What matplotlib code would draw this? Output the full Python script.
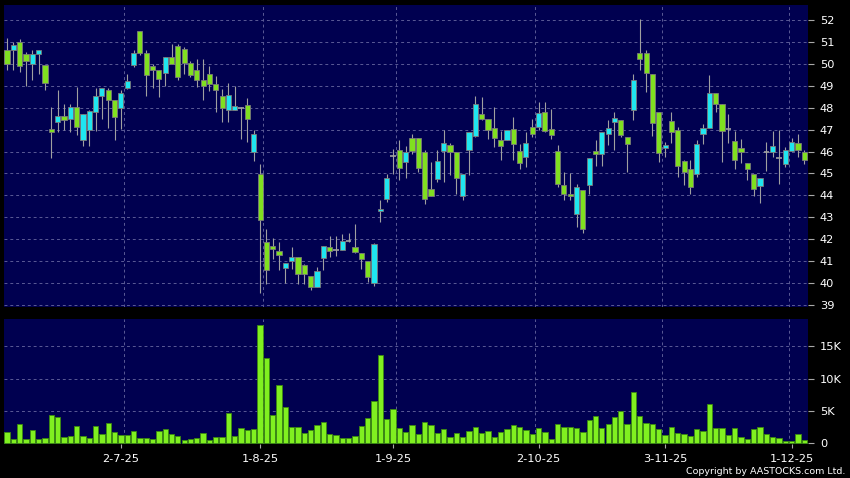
import matplotlib
matplotlib.use("Agg")
import matplotlib.pyplot as plt
import numpy as np

# ---------------- data ----------------
opens = [50.65, 50.65, 51.01, 50.46, 50.01, 50.46, 49.96, 47.04, 47.36, 47.63,
         47.49, 48.03, 46.54, 46.99, 47.80, 48.53, 48.82, 48.36, 48.00, 48.90,
         49.95, 51.50, 50.51, 49.90, 49.73, 49.60, 50.31, 50.81, 50.69, 50.05,
         49.73, 49.28, 49.55, 49.09, 48.51, 47.88, 47.91, 48.00, 48.13, 45.97,
         44.98, 41.86, 41.68, 41.45, 40.69, 41.03, 41.19, 40.83, 40.33, 39.84,
         41.15, 41.63, 41.51, 41.51, 41.94, 41.63, 41.36, 41.00, 39.99, 43.28,
         43.84, 45.79, 46.08, 45.52, 46.63, 46.63, 45.97, 44.30, 44.75, 46.02,
         46.31, 45.97, 43.99, 46.05, 46.69, 47.72, 47.49, 47.07, 46.54, 46.51,
         47.04, 46.02, 45.77, 47.11, 47.11, 47.80, 47.04, 46.02, 44.45, 44.07,
         43.16, 44.25, 44.45, 46.02, 45.90, 46.78, 47.34, 47.45, 46.66, 47.91,
         50.49, 50.49, 49.55, 47.80, 46.17, 47.39, 46.99, 45.56, 45.21, 44.98,
         46.81, 47.08, 48.67, 48.18, 47.02, 46.47, 46.17, 45.47, 44.98, 44.42,
         46.00, 45.97, 45.71, 45.44, 46.02, 46.38, 45.97]
highs = [51.19, 50.99, 51.13, 50.54, 50.65, 50.65, 49.96, 48.03, 48.79, 48.15,
         48.15, 48.94, 47.72, 47.90, 48.91, 48.91, 48.91, 48.36, 48.82, 49.52,
         50.61, 51.50, 50.61, 50.01, 49.73, 50.31, 50.92, 50.92, 50.75, 50.13,
         50.22, 50.22, 49.88, 49.43, 48.86, 49.14, 49.00, 48.03, 48.45, 46.99,
         45.44, 42.47, 42.06, 41.86, 40.92, 41.65, 41.19, 40.87, 40.33, 40.72,
         41.68, 42.17, 42.17, 42.24, 42.29, 42.70, 41.36, 41.03, 41.82, 43.80,
         44.98, 46.12, 46.51, 46.23, 46.81, 46.63, 46.05, 45.52, 46.05, 46.99,
         46.38, 45.97, 44.98, 46.89, 48.51, 48.48, 47.49, 48.03, 46.93, 46.99,
         47.57, 46.32, 46.89, 47.49, 48.26, 48.26, 47.95, 46.28, 45.06, 45.01,
         44.53, 44.25, 45.71, 46.54, 46.89, 47.42, 47.80, 47.45, 46.66, 49.52,
         52.02, 50.61, 49.55, 47.80, 46.43, 47.80, 47.11, 45.62, 45.62, 46.54,
         47.24, 49.47, 48.67, 48.18, 47.69, 46.93, 46.58, 45.47, 44.98, 44.80,
         46.43, 46.93, 46.96, 46.20, 46.63, 46.81, 46.08]
lows = [49.73, 49.73, 49.63, 48.97, 49.25, 49.55, 48.82, 45.71, 46.89, 46.96,
        46.89, 46.73, 46.23, 46.23, 46.93, 47.49, 47.08, 46.51, 47.04, 48.86,
        49.85, 50.39, 48.51, 48.90, 48.48, 48.97, 50.00, 49.25, 49.55, 49.40,
        48.94, 48.33, 48.76, 47.80, 47.34, 47.34, 47.88, 46.58, 46.43, 45.56,
        39.53, 39.96, 41.10, 40.60, 39.99, 40.65, 39.96, 39.96, 39.69, 39.84,
        40.60, 41.21, 41.23, 41.51, 41.86, 41.36, 40.65, 40.04, 39.88, 42.78,
        43.69, 44.98, 44.68, 44.80, 45.87, 45.06, 43.61, 43.99, 44.60, 44.60,
        44.91, 44.07, 43.77, 44.91, 46.66, 47.42, 46.58, 46.20, 45.59, 46.51,
        45.62, 45.21, 45.29, 46.66, 46.96, 46.89, 46.58, 44.37, 43.77, 43.77,
        42.58, 42.27, 44.07, 45.32, 45.32, 46.28, 46.05, 46.66, 45.06, 47.42,
        49.70, 48.71, 46.69, 45.52, 45.74, 46.38, 44.83, 44.45, 44.07, 44.83,
        46.32, 47.08, 47.80, 45.52, 46.38, 45.21, 45.47, 44.68, 43.99, 43.64,
        45.11, 45.74, 44.53, 45.29, 46.02, 45.74, 45.44]
closes = [50.01, 50.87, 49.91, 50.13, 50.46, 50.65, 49.12, 46.89, 47.63, 47.45,
          48.03, 47.11, 47.72, 47.83, 48.54, 48.91, 48.36, 47.57, 48.68, 49.20,
          50.51, 50.51, 49.49, 49.73, 49.31, 50.31, 50.01, 49.40, 50.05, 49.49,
          49.28, 48.99, 49.09, 48.82, 48.00, 48.59, 48.06, 48.00, 47.49, 46.81,
          42.88, 40.60, 41.56, 41.28, 40.92, 41.19, 40.42, 40.42, 39.84, 40.54,
          41.68, 41.48, 41.51, 41.94, 41.94, 41.41, 41.10, 40.30, 41.79, 43.39,
          44.80, 45.79, 45.26, 45.97, 46.02, 45.26, 43.84, 43.99, 45.56, 46.38,
          45.97, 44.80, 44.98, 46.89, 48.18, 47.49, 46.99, 46.63, 46.26, 46.96,
          46.32, 45.47, 46.38, 46.81, 47.75, 46.92, 46.73, 44.50, 44.07, 43.99,
          44.37, 42.47, 45.71, 45.90, 46.89, 47.08, 47.54, 46.73, 46.32, 49.28,
          50.23, 49.58, 47.30, 45.93, 46.28, 46.89, 45.32, 45.06, 44.37, 46.32,
          47.08, 48.67, 48.18, 46.93, 47.02, 45.59, 45.97, 45.21, 44.30, 44.80,
          46.00, 46.23, 45.71, 46.08, 46.43, 46.08, 45.62]
volumes = [1761, 622, 2953, 570, 1968, 622, 829, 4403, 4040, 932,
           1140, 2694, 1140, 777, 2642, 1399, 3160, 1658, 1191, 1295,
           1813, 725, 725, 570, 1917, 2176, 1347, 1036, 414, 570,
           777, 1606, 518, 984, 984, 4714, 1036, 2383, 1968, 2227,
           18389, 13209, 4403, 9065, 5594, 2538, 2538, 1606, 2072, 2797,
           3263, 1450, 1191, 829, 725, 1088, 2590, 3885, 6475, 13727,
           3678, 5284, 2383, 1761, 2745, 1347, 3263, 2745, 1554, 2176,
           881, 1606, 881, 1917, 2486, 1606, 1917, 881, 1761, 2227,
           2797, 2435, 2072, 1450, 2331, 1658, 622, 2901, 2486, 2486,
           2279, 1761, 3626, 4248, 2383, 2953, 3989, 4921, 3004, 7874,
           4248, 3160, 2953, 2124, 1191, 2486, 1606, 1347, 1088, 2176,
           1917, 6009, 2383, 2383, 1243, 2279, 984, 673, 2227, 2486,
           1450, 984, 829, 259, 259, 1347, 518]

# date labels: candle index of the labelled day, and candle index that starts each month
label_idx = [18, 40, 61, 84, 104, 124]
month_start_idx = [19, 41, 62, 84, 104, 124]
month_labels = ["2-7-25", "1-8-25", "1-9-25", "2-10-25", "3-11-25", "1-12-25"]
price_ticks = list(range(39, 53))
vol_ticks = [0, 5000, 10000, 15000]
vol_labels = ["0", "5K", "10K", "15K"]

# ---------------- style ----------------
BG = "#000050"
GRID = "#5a5a96"
UP = "#1fe6f0"
DOWN = "#80e020"
WICK = "#a0a0a0"
EDGE = "#7a7a7a"
VOL = "#80f020"
VOL_EDGE = "#3c8a10"
FS = 8.2

o = np.array(opens); h = np.array(highs); l = np.array(lows); c = np.array(closes)
v = np.array(volumes)
x = np.arange(len(o))

W, H = 850, 478
fig = plt.figure(figsize=(W / 100, H / 100), dpi=100, facecolor="black")
ax1 = fig.add_axes([4 / W, 1 - 307 / H, (807.5 - 4) / W, (307 - 5) / H])
ax2 = fig.add_axes([4 / W, 1 - 444 / H, (807.5 - 4) / W, (444 - 319) / H])

for ax in (ax1, ax2):
    ax.set_facecolor(BG)
    for s in ax.spines.values():
        s.set_visible(False)
    ax.set_xlim(-0.47, 126.5)
    ax.yaxis.tick_right()
    ax.tick_params(axis="y", colors="#a8a8a8", labelcolor="white", length=4,
                   width=0.8, pad=5, labelsize=FS)
    for m in month_start_idx:
        ax.axvline(m - 0.5, color=GRID, lw=0.7, ls=(0, (3, 3)), zorder=0)

# price panel
ax1.set_ylim(38.91, 52.68)
ax1.set_yticks(price_ticks)
ax1.set_yticklabels([str(t) for t in price_ticks])
for t in price_ticks:
    ax1.axhline(t, color=GRID, lw=0.7, ls=(0, (3, 3)), zorder=0)
ax1.set_xticks([])

ax1.vlines(x, l, h, color=WICK, lw=0.8, zorder=2)
up = c > o
down = c < o
doji = c == o
ax1.bar(x[up], (c - o)[up], bottom=o[up], width=0.82, color=UP,
        edgecolor=EDGE, linewidth=0.6, zorder=3)
ax1.bar(x[down], (o - c)[down], bottom=c[down], width=0.82, color=DOWN,
        edgecolor=EDGE, linewidth=0.6, zorder=3)
ax1.hlines(o[doji], x[doji] - 0.42, x[doji] + 0.42, color=WICK, lw=1.2, zorder=3)

# volume panel
ax2.set_ylim(-155, 19255)
ax2.set_yticks(vol_ticks)
ax2.set_yticklabels(vol_labels)
for t in vol_ticks[1:]:
    ax2.axhline(t, color=GRID, lw=0.7, ls=(0, (3, 3)), zorder=0)
ax2.bar(x, v, width=0.84, color=VOL, edgecolor=VOL_EDGE, linewidth=0.6, zorder=3)
ax2.set_xticks(label_idx)
ax2.set_xticklabels(month_labels)
ax2.tick_params(axis="x", colors="#a8a8a8", labelcolor="white", length=3,
                width=0.8, pad=4, labelsize=FS)

fig.text(845 / W, 1 - 472 / H, "Copyright by AASTOCKS.com Ltd.", color="white",
         fontsize=6.8, ha="right", va="center")

fig.savefig("out.png", dpi=100, facecolor="black")
